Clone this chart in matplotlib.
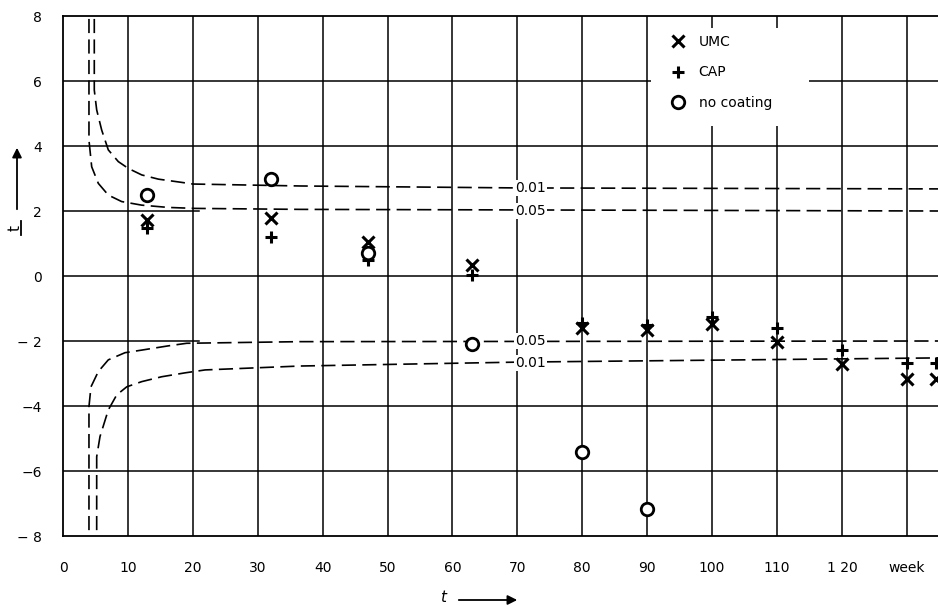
import matplotlib
matplotlib.use("Agg")
import matplotlib.pyplot as plt
from matplotlib.lines import Line2D
from matplotlib.patches import Rectangle

plt.rcParams['font.family'] = ['DejaVu Sans']

# measured points (weeks, t)
weeks = [13, 32, 47, 63, 80, 90, 100, 110, 120, 130, 134.5]
t_umc = [1.72, 1.78, 1.06, 0.34, -1.61, -1.66, -1.48, -2.02, -2.72, -3.17, -3.17]
t_cap = [1.47, 1.19, 0.49, 0.03, -1.44, -1.51, -1.25, -1.61, -2.28, -2.69, -2.69]
weeks_none = [13, 32, 47, 63, 80, 90]
t_none = [2.49, 3.0, 0.72, -2.09, -5.41, -7.18]

# critical value curves
up01_x = [4.82, 4.82, 5.19, 5.96, 6.98, 8.52, 10.06, 12.13, 14.7, 18.3, 20.0, 36.5, 70, 134.8]
up01_y = [7.91, 5.72, 5.11, 4.49, 3.88, 3.52, 3.31, 3.11, 2.98, 2.88, 2.83, 2.77, 2.71, 2.68]
up05_x = [4.0, 4.0, 4.42, 5.44, 6.98, 9.04, 12.13, 16.2, 20.3, 36.5, 134.8]
up05_y = [7.91, 4.18, 3.36, 2.85, 2.49, 2.29, 2.18, 2.11, 2.08, 2.05, 2.0]
lo05_x = [4.0, 4.0, 4.31, 5.44, 6.98, 9.55, 12.13, 16.2, 19.06, 36.5, 134.8]
lo05_y = [-7.82, -4.02, -3.41, -2.94, -2.58, -2.36, -2.28, -2.15, -2.07, -2.02, -2.0]
lo01_x = [5.19, 5.19, 5.7, 6.98, 8.27, 9.82, 12.13, 15.2, 18.8, 21.9, 36.5, 70, 134.8]
lo01_y = [-7.82, -5.56, -4.94, -4.12, -3.66, -3.41, -3.25, -3.10, -2.98, -2.89, -2.77, -2.65, -2.52]

curve_labels = ['0.01', '0.05', '0.05', '0.01']
curve_label_y = [2.71, 2.0, -2.0, -2.68]

xticks = [0, 10, 20, 30, 40, 50, 60, 70, 80, 90, 100, 110, 120, 130]
xticklabels = ['0', '10', '20', '30', '40', '50', '60', '70', '80', '90', '100', '110', '1 20', 'week']
yticks = [-8, -6, -4, -2, 0, 2, 4, 6, 8]
yticklabels = ['\u2212 8', '\u22126', '\u22124', '\u2212 2', '0', '2', '4', '6', '8']

fs = 10

fig = plt.figure(figsize=(9.38, 6.06), dpi=100)
ax = fig.add_axes([63/938, 1 - 536/606, (938 - 63)/938, (536 - 16)/606])
ax.set_xlim(0, 134.8)
ax.set_ylim(-8, 8)

# grid
lw_grid = 1.1
for x in xticks[1:]:
    ax.axvline(x, color='black', lw=lw_grid, zorder=1)
for y in [-6, -4, 0, 4, 6]:
    ax.axhline(y, color='black', lw=lw_grid, zorder=1)
for y in [-2, 2]:
    ax.plot([0, 21], [y, y], color='black', lw=lw_grid, zorder=1)

for s in ['left', 'bottom', 'top']:
    ax.spines[s].set_linewidth(1.3)
ax.spines['right'].set_visible(False)

# dashed curves
dash = dict(color='black', lw=1.2, dashes=(8.5, 3.8), zorder=2)
ax.plot(up01_x, up01_y, **dash)
ax.plot(up05_x, up05_y, **dash)
ax.plot(lo05_x, lo05_y, **dash)
ax.plot(lo01_x, lo01_y, **dash)

for lab, y in zip(curve_labels, curve_label_y):
    ax.text(72, y, lab, ha='center', va='center', fontsize=fs, zorder=3,
            bbox=dict(facecolor='white', edgecolor='none', pad=1.0))

# markers
ax.plot(weeks, t_umc, linestyle='none', marker='x', ms=8, mew=2.2, color='black',
        label='UMC', zorder=4)
ax.plot(weeks, t_cap, linestyle='none', marker='+', ms=8, mew=2.2, color='black',
        label='CAP', zorder=4)
ax.plot(weeks_none, t_none, linestyle='none', marker='o', ms=9, mew=2, mfc='white',
        color='black', label='no coating', zorder=5)

# white box behind the legend
ax.add_patch(Rectangle((90.6, 4.62), 24.4, 3.0, facecolor='white', edgecolor='none', zorder=8))
leg = ax.legend(loc='upper left', bbox_to_anchor=(93.0/134.8, 7.55/16 + 0.5),
                frameon=False, fontsize=fs, handlelength=1.0, handletextpad=1.0,
                labelspacing=1.2, borderpad=0.3, borderaxespad=0)
leg.set_zorder(10)

ax.set_xticks(xticks)
ax.set_xticklabels(xticklabels)
ax.set_yticks(yticks)
ax.set_yticklabels(yticklabels)
ax.tick_params(axis='both', length=0, labelsize=fs)
ax.tick_params(axis='x', pad=18)
ax.tick_params(axis='y', pad=15)

# axis labels with arrows
fig.text(443/938, 1 - 597/606, 't', style='italic', fontsize=11, ha='center', va='center')
ax.annotate('', xy=(520/938, 1 - 600/606), xytext=(456/938, 1 - 600/606),
            xycoords='figure fraction',
            arrowprops=dict(arrowstyle='-|>', color='black', lw=1.3, mutation_scale=14))
fig.text(15/938, 1 - 228/606, 't', rotation=90, fontsize=11,
         ha='center', va='center')
fig.add_artist(Line2D([21/938, 21/938], [1 - 221/606, 1 - 235/606], color='black', lw=1.3))
ax.annotate('', xy=(17/938, 1 - 145/606), xytext=(17/938, 1 - 212/606),
            xycoords='figure fraction',
            arrowprops=dict(arrowstyle='-|>', color='black', lw=1.3, mutation_scale=14))

fig.savefig('out.png', dpi=100)
